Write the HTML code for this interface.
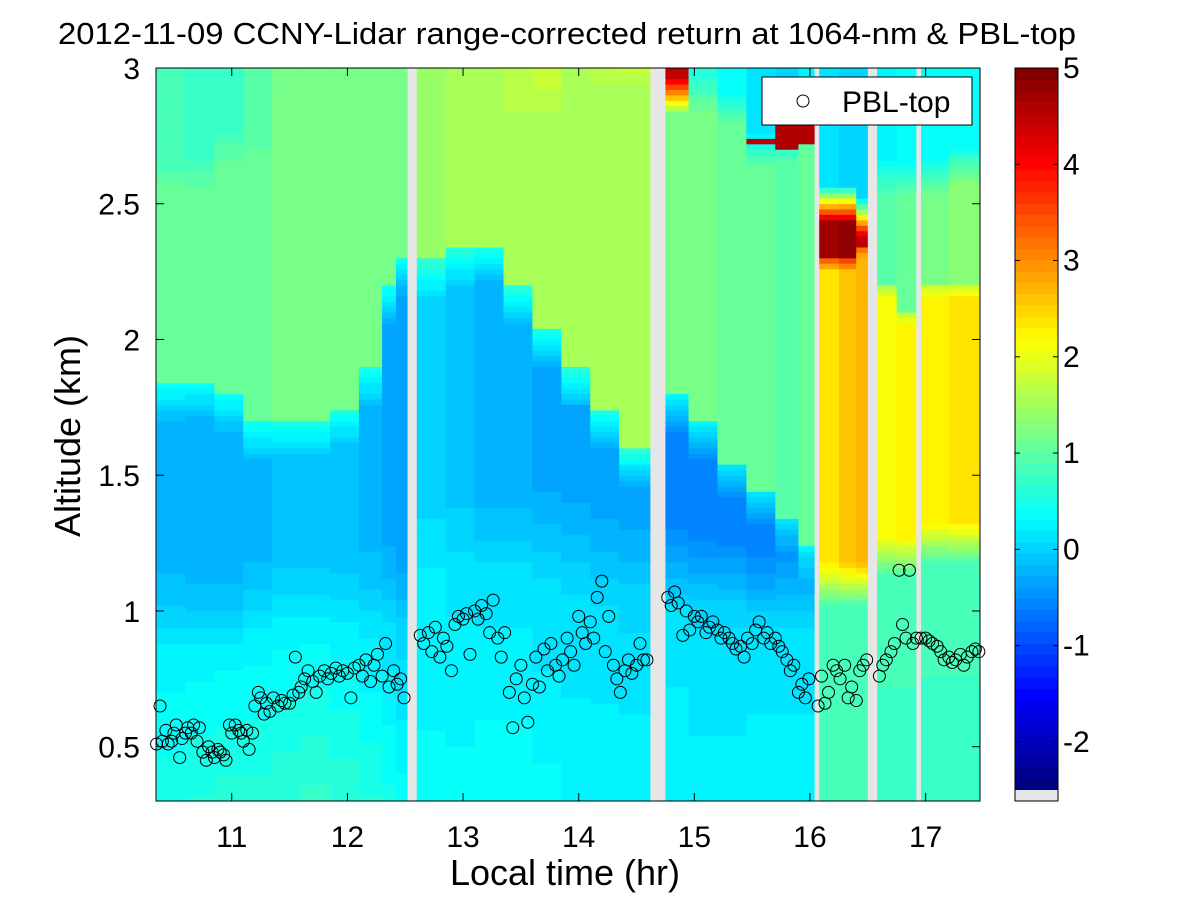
<!DOCTYPE html>
<html><head><meta charset="utf-8"><style>
body{margin:0;background:#fff;font-family:"Liberation Sans",sans-serif;}
</style></head><body>
<svg id="chart" width="1201" height="901" xmlns="http://www.w3.org/2000/svg">
<rect width="1201" height="901" fill="#fff"/>
<text x="567" y="44" font-size="31" text-anchor="middle" textLength="1018" lengthAdjust="spacingAndGlyphs">2012-11-09 CCNY-Lidar range-corrected return at 1064-nm &amp; PBL-top</text>
<g id="heat"></g>
<g id="pts"></g>
<rect x="156" y="68" width="824" height="733" fill="none" stroke="#000" stroke-width="1"/>
<g id="axes"></g>
<g>
<rect x="762" y="77" width="210" height="48" fill="#fff" stroke="#000"/>
<circle cx="803" cy="101" r="6" fill="none" stroke="#000"/>
<text x="842" y="112" font-size="30">PBL-top</text>
</g>
<text x="565" y="885" font-size="36" text-anchor="middle">Local time (hr)</text>
<text transform="translate(80,436) rotate(-90)" font-size="36" text-anchor="middle">Altitude (km)</text>
<g id="cbar"></g>
</svg>
<script>
const colStart=[10.35,10.6,10.85,11.1,11.35,11.6,11.85,12.1,12.3,12.42,12.52,12.6,12.85,13.1,13.35,13.6,13.85,14.1,14.35,14.62,14.75,14.95,15.2,15.45,15.7,15.9,16.04,16.08,16.25,16.4,16.5,16.58,16.75,16.92,16.96,17.2];
const colEndLast=17.47;
const isGap=[0,0,0,0,0,0,0,0,0,0,1,0,0,0,0,0,0,0,0,1,0,0,0,0,0,0,1,0,0,0,1,0,0,1,0,0];
const bottomVal=[0.5,0.55,0.6,0.6,0.65,0.7,0.65,0.55,0.45,0.35,0,0.35,0.35,0.4,0.4,0.35,0.3,0.3,0.3,0,0.3,0.25,0.25,0.3,0.3,0.3,0,0.8,0.8,0.8,0,0.75,0.75,0,0.75,0.75];
const l1Top=[1.0,1.0,1.0,1.05,1.1,1.1,1.1,1.1,1.1,1.1,0,1.3,1.3,1.3,1.3,1.3,1.25,1.2,1.2,0,1.15,1.15,1.15,1.1,1.1,1.1,0,1.1,1.1,1.1,0,1.2,1.2,0,1.25,1.25];
const l1Val=[0.15,0.15,0.15,0.15,0.15,0.15,0.1,0.05,0.0,-0.1,0,0.15,0.1,0.05,0.05,0.0,0.0,0.0,-0.05,0,0.05,0,0,0.0,0.0,0.0,0,0.9,0.9,0.9,0,0.8,0.8,0,0.8,0.8];
const l2Top=[1.85,1.85,1.8,1.7,1.7,1.7,1.75,1.9,2.2,2.3,0,2.3,2.35,2.35,2.2,2.05,1.9,1.75,1.6,0,1.8,1.7,1.55,1.45,1.35,1.25,0,2.3,2.3,2.35,0,2.2,2.1,0,2.2,2.2];
const l2Val=[-0.2,-0.25,-0.25,-0.2,-0.15,-0.15,-0.15,-0.2,-0.3,-0.4,0,0.0,-0.1,-0.25,-0.25,-0.3,-0.3,-0.3,-0.35,0,-0.55,-0.6,-0.65,-0.65,-0.55,-0.5,0,2.4,2.6,2.7,0,2.2,2.3,0,2.3,2.4];
const l3Top=[2.6,2.6,2.7,2.7,3.0,3.0,3.0,3.0,3.0,3.0,0,3.0,2.8,2.8,2.9,2.9,3.0,3.0,3.0,0,2.9,2.9,2.85,2.7,2.72,2.75,0,2.5,2.5,2.45,0,2.6,2.6,0,2.6,2.65];
const l3Val=[1.1,1.1,1.1,1.1,1.15,1.15,1.2,1.2,1.2,1.2,0,1.4,1.5,1.5,1.6,1.6,1.6,1.6,1.6,0,1.2,1.2,1.1,1.1,1.0,1.1,0,4.8,4.9,4.5,0,1.0,1.1,0,1.2,1.3];
const topVal=[0.8,0.75,0.75,0.9,1.15,1.15,1.2,1.2,1.2,1.2,0,1.5,1.6,1.6,1.7,1.8,1.6,1.8,1.9,0,4.5,0.6,0.3,0.1,0.0,0.2,0,0.1,0.0,0.0,0,0.2,0.3,0,0.3,0.3];
const spikeBot=[0,0,0,0,0,0,0,0,0,0,0,0,0,0,0,0,0,0,0,0,0,0,0,2.72,2.7,2.73,0,0,0,0,0,0,0,0,0,0];
const spikeTop=[0,0,0,0,0,0,0,0,0,0,0,0,0,0,0,0,0,0,0,0,0,0,0,2.75,2.8,2.8,0,0,0,0,0,0,0,0,0,0];
const spikeVal=[0,0,0,0,0,0,0,0,0,0,0,0,0,0,0,0,0,0,0,0,0,0,0,4.5,4.6,4.6,0,0,0,0,0,0,0,0,0,0];
const pblTime=[10.35,10.38,10.4,10.43,10.45,10.48,10.5,10.52,10.55,10.57,10.6,10.62,10.65,10.67,10.7,10.72,10.75,10.78,10.8,10.83,10.85,10.88,10.9,10.93,10.95,10.98,11.0,11.03,11.06,11.08,11.1,11.13,11.15,11.18,11.2,11.23,11.25,11.28,11.3,11.33,11.36,11.4,11.43,11.46,11.5,11.53,11.55,11.58,11.6,11.63,11.66,11.7,11.73,11.76,11.8,11.83,11.86,11.9,11.93,11.96,12.0,12.03,12.06,12.1,12.13,12.16,12.2,12.23,12.26,12.3,12.33,12.36,12.4,12.43,12.46,12.49,
12.63,12.66,12.7,12.73,12.76,12.8,12.83,12.86,12.9,12.93,12.96,13.0,13.03,13.06,13.1,13.13,13.16,13.2,13.23,13.26,13.3,13.33,13.36,13.4,13.43,13.46,13.5,13.53,13.56,13.6,13.63,13.66,13.7,13.73,13.76,13.8,13.83,13.86,13.9,13.93,13.96,14.0,14.03,14.06,14.1,14.13,14.16,14.2,14.23,14.26,14.3,14.33,14.36,14.4,14.43,14.46,14.5,14.53,14.56,14.59,
14.77,14.8,14.83,14.86,14.9,14.93,14.96,15.0,15.03,15.06,15.1,15.13,15.16,15.2,15.23,15.26,15.3,15.33,15.36,15.4,15.43,15.46,15.5,15.53,15.56,15.6,15.63,15.66,15.7,15.73,15.76,15.8,15.83,15.86,15.9,15.93,15.96,15.99,
16.07,16.1,16.13,16.16,16.2,16.23,16.26,16.3,16.33,16.36,16.4,16.43,16.46,16.49,
16.6,16.63,16.66,16.7,16.73,16.77,16.8,16.83,16.86,16.89,16.92,
16.96,17.0,17.03,17.06,17.1,17.13,17.16,17.2,17.23,17.26,17.3,17.33,17.36,17.4,17.43,17.46];
const pblAlt=[0.51,0.65,0.52,0.56,0.51,0.52,0.55,0.58,0.46,0.53,0.55,0.57,0.55,0.58,0.52,0.57,0.48,0.45,0.5,0.48,0.46,0.49,0.48,0.47,0.45,0.58,0.55,0.58,0.56,0.55,0.52,0.56,0.49,0.55,0.65,0.7,0.68,0.62,0.66,0.63,0.68,0.65,0.67,0.66,0.66,0.69,0.83,0.7,0.72,0.75,0.78,0.74,0.7,0.76,0.78,0.75,0.77,0.79,0.76,0.78,0.77,0.68,0.79,0.8,0.76,0.82,0.74,0.8,0.84,0.76,0.88,0.72,0.78,0.73,0.75,0.68,
0.91,0.88,0.92,0.85,0.94,0.83,0.9,0.87,0.78,0.95,0.98,0.97,0.99,0.84,1.0,0.97,1.02,0.99,0.92,1.04,0.9,0.83,0.92,0.7,0.57,0.75,0.8,0.68,0.59,0.73,0.83,0.72,0.86,0.78,0.88,0.8,0.76,0.82,0.9,0.85,0.8,0.98,0.92,0.88,0.96,0.9,1.05,1.11,0.85,0.98,0.8,0.75,0.7,0.78,0.82,0.77,0.8,0.88,0.82,0.82,
1.05,1.02,1.07,1.03,0.91,1.0,0.93,0.98,0.96,0.98,0.92,0.94,0.96,0.93,0.9,0.92,0.9,0.88,0.86,0.87,0.83,0.9,0.88,0.93,0.96,0.9,0.92,0.88,0.9,0.87,0.85,0.82,0.78,0.8,0.7,0.73,0.68,0.75,
0.65,0.76,0.66,0.7,0.8,0.78,0.75,0.8,0.68,0.72,0.67,0.78,0.8,0.82,
0.76,0.8,0.82,0.85,0.88,1.15,0.95,0.9,1.15,0.88,0.9,
0.9,0.9,0.89,0.88,0.87,0.85,0.82,0.83,0.81,0.82,0.84,0.8,0.83,0.85,0.86,0.85];
const xTicks=[11,12,13,14,15,16,17];
const yTicks=[0.5,1,1.5,2,2.5,3];
const yTickLabels=["0.5","1","1.5","2","2.5","3"];
const cTicks=[-2,-1,0,1,2,3,4,5];

const NS="http://www.w3.org/2000/svg";
const X0=156,X1=980,Y0=68,Y1=801,TMIN=10.345,TMAX=17.47,ZMIN=0.3,ZMAX=3.0;
const sx=t=>X0+(t-TMIN)/(TMAX-TMIN)*(X1-X0);
const sy=z=>Y1-(z-ZMIN)/(ZMAX-ZMIN)*(Y1-Y0);
const CMIN=-2.5,CMAX=5;
function jet(v){let t=(v-CMIN)/(CMAX-CMIN);t=Math.max(0,Math.min(1,t));t=Math.round(t*63)/63;
 const c=f=>Math.round(255*Math.max(0,Math.min(1,f)));
 return `rgb(${c(1.5-Math.abs(4*t-3))},${c(1.5-Math.abs(4*t-2))},${c(1.5-Math.abs(4*t-1))})`;}
function mk(tag,attrs,parent){const e=document.createElementNS(NS,tag);for(const k in attrs)e.setAttribute(k,attrs[k]);parent.appendChild(e);return e;}
function blend(a,b,z,edge,w){const f=Math.max(0,Math.min(1,(z-edge+w)/(2*w)));return a+(b-a)*f;}
function profile(i,z){
 const f=Math.min(1,(z-ZMIN)/Math.max(0.1,l1Top[i]-ZMIN));
 let v=bottomVal[i]+(l1Val[i]-bottomVal[i])*f;
 const warm=l2Val[i]>1.5;
 v=blend(v,l2Val[i],z,l1Top[i],warm?0.08:0.15);
 if(z>l1Top[i])v=blend(v,l3Val[i],z,l2Top[i],warm?0.05:0.15);
 if(z>l2Top[i])v=blend(l3Val[i],topVal[i],z,l3Top[i],0.07);
 if(spikeTop[i]>0&&z>=spikeBot[i]&&z<=spikeTop[i])v=spikeVal[i];
 return v;}
const heat=document.getElementById('heat');
for(let i=0;i<colStart.length;i++){
 const t0=colStart[i],t1=i+1<colStart.length?colStart[i+1]:colEndLast;
 const x=sx(t0),w=sx(t1)-x+0.5;
 if(isGap[i]){const r=mk('rect',{x:x,y:Y0,width:w,height:Y1-Y0,fill:'#e6e6e6'},heat);
  
  continue;}
 const dz=0.02;
 for(let z=ZMIN;z<ZMAX-1e-9;z+=dz){
  const v=profile(i,z+dz/2);
  const r=mk('rect',{x:x,y:sy(z+dz)-0.3,width:w,height:sy(z)-sy(z+dz)+0.6,fill:jet(v)},heat);
  
  
 }
}
const pts=document.getElementById('pts');
for(let i=0;i<pblTime.length;i++){
 const c=mk('circle',{cx:sx(pblTime[i]),cy:sy(pblAlt[i]),r:6,fill:'none',stroke:'#000','stroke-width':1},pts);
 
 
}
const axes=document.getElementById('axes');
xTicks.forEach(t=>{const x=sx(t);
 mk('line',{x1:x,x2:x,y1:Y1,y2:Y1-8,stroke:'#000'},axes);
 mk('line',{x1:x,x2:x,y1:Y0,y2:Y0+8,stroke:'#000'},axes);
 const tx=mk('text',{x:x,y:847,'font-size':30,'text-anchor':'middle'},axes);tx.textContent=String(t);
 
 });
yTicks.forEach((z,k)=>{const y=sy(z);
 mk('line',{x1:X0,x2:X0+8,y1:y,y2:y,stroke:'#000'},axes);
 mk('line',{x1:X1,x2:X1-8,y1:y,y2:y,stroke:'#000'},axes);
 const tx=mk('text',{x:140,y:y+11,'font-size':30,'text-anchor':'end'},axes);tx.textContent=yTickLabels[k];
 
 });
const cb=document.getElementById('cbar');
const CX=1015,CW=43,CY0=68,CY1=790;
const cy=v=>CY1-(v-CMIN)/(CMAX-CMIN)*(CY1-CY0);
for(let k=0;k<64;k++){const v0=CMIN+k*(CMAX-CMIN)/64,v1=CMIN+(k+1)*(CMAX-CMIN)/64;
 mk('rect',{x:CX,y:cy(v1),width:CW,height:cy(v0)-cy(v1)+0.5,fill:jet((v0+v1)/2)},cb);}
mk('rect',{x:CX,y:CY1,width:CW,height:11,fill:'#e6e6e6'},cb);
mk('rect',{x:CX,y:CY0,width:CW,height:801-CY0,fill:'none',stroke:'#000'},cb);
cTicks.forEach(v=>{const y=cy(v);
 mk('line',{x1:CX,x2:CX+5,y1:y,y2:y,stroke:'#000'},cb);
 mk('line',{x1:CX+CW,x2:CX+CW-5,y1:y,y2:y,stroke:'#000'},cb);
 const tx=mk('text',{x:CX+CW+5,y:y+10,'font-size':30},cb);tx.textContent=String(v);
 
 });
</script>
</body></html>
